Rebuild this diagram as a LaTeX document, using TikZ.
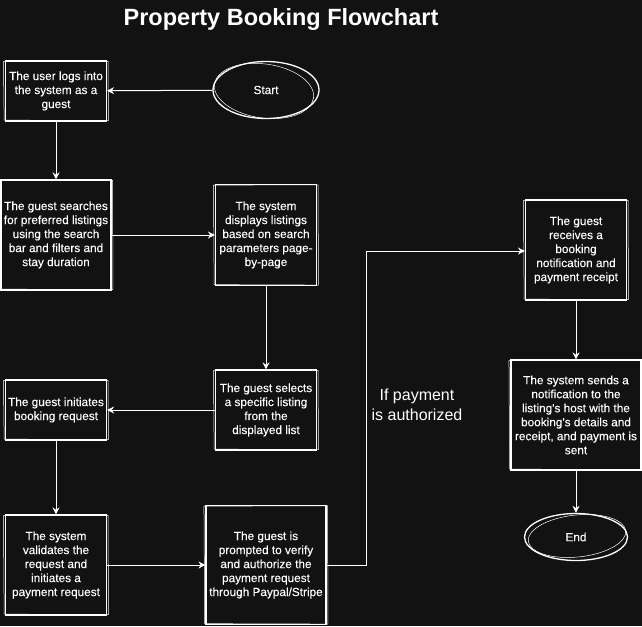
\documentclass[tikz,border=0pt]{standalone}
\usepackage{fontspec}
\setmainfont{Liberation Sans}
\newfontfamily\boxfont{Liberation Sans}[FakeBold=0.06]
\usetikzlibrary{arrows.meta,shapes.geometric}
\definecolor{bg}{HTML}{121212}
\begin{document}
\begin{tikzpicture}[x=1pt,y=-1pt,
  every node/.style={text=white,font=\boxfont\fontsize{11.8}{14}\selectfont},
  stepbox/.style={draw=white,line width=1.1pt,fill=bg,align=center,inner sep=1pt},
  term/.style={draw=white,line width=1.3pt,ellipse,fill=bg},
  conn/.style={draw=white,line width=1pt,-{Stealth[length=7pt,width=7pt]}},
  sketch/.style={draw=white,line width=0.5pt}]
\fill[bg] (0,0) rectangle (642,626);
\useasboundingbox (0,0) rectangle (642,626);
\node[font=\fontsize{23.5}{28}\bfseries] (title) at (281,19) {Property Booking Flowchart};
\node[term,minimum width=106pt,minimum height=57pt] (start) at (266,90) {Start};
\node[stepbox,minimum width=101pt,minimum height=60pt] (b1) at (56,91) {The user logs into\\the system as a\\guest};
\node[stepbox,minimum width=110pt,minimum height=110pt] (b2) at (56,235) {The guest searches\\for preferred listings\\using the search\\bar and filters and\\stay duration};
\node[stepbox,minimum width=101pt,minimum height=101pt] (b3) at (266,235) {The system\\displays listings\\based on search\\parameters page-\\by-page};
\node[stepbox,minimum width=101pt,minimum height=80pt] (b4) at (266,410) {The guest selects\\a specific listing\\from the\\displayed list};
\node[stepbox,minimum width=101pt,minimum height=60pt] (b5) at (56,410) {The guest initiates\\booking request};
\node[stepbox,minimum width=101pt,minimum height=100pt] (b6) at (56,565) {The system\\validates the\\request and\\initiates a\\payment request};
\node[stepbox,minimum width=120pt,minimum height=119pt] (b7) at (266,565) {The guest is\\prompted to verify\\and authorize the\\payment request\\through Paypal/Stripe};
\node[stepbox,minimum width=101pt,minimum height=100pt] (b8) at (576,250) {The guest\\receives a\\booking\\notification and\\payment receipt};
\node[stepbox,minimum width=130pt,minimum height=110pt] (b9) at (576,415) {The system sends a\\notification to the\\listing's host with the\\booking's details and\\receipt, and payment is\\sent};
\node[term,minimum width=103pt,minimum height=47pt] (end) at (576,537) {End};
\node[font=\fontsize{16}{20}\selectfont,align=center] (lbl) at (417,405) {If payment\\is authorized};
\foreach \n in {b1,b2,b3,b4,b5,b6,b7,b8,b9}{
  \draw[sketch] ([shift={(-1.5,1.2)}]\n.north west) -- ([shift={(1,0.8)}]\n.north east)
    -- ([shift={(1.4,-1)}]\n.south east) -- ([shift={(-0.8,-1.4)}]\n.south west) -- cycle;
}
\draw[sketch] ([shift={(-2,1)}]start.center) ellipse [x radius=50pt,y radius=27pt, rotate=-8];
\draw[sketch] ([shift={(1,-1)}]end.center) ellipse [x radius=49pt,y radius=21pt, rotate=6];
\coordinate (k1) at (366,565);
\coordinate (k2) at (366,251);
\draw[conn] (start) -- (b1);
\draw[conn] (b1) -- (b2);
\draw[conn] (b2) -- (b3);
\draw[conn] (b3) -- (b4);
\draw[conn] (b4) -- (b5);
\draw[conn] (b5) -- (b6);
\draw[conn] (b6) -- (b7);
\draw[conn] (b7.east) -- (k1) -- (k2) -- (b8.west |- k2);
\draw[conn] (b8) -- (b9);
\draw[conn] (b9) -- (end);
\end{tikzpicture}
\end{document}
